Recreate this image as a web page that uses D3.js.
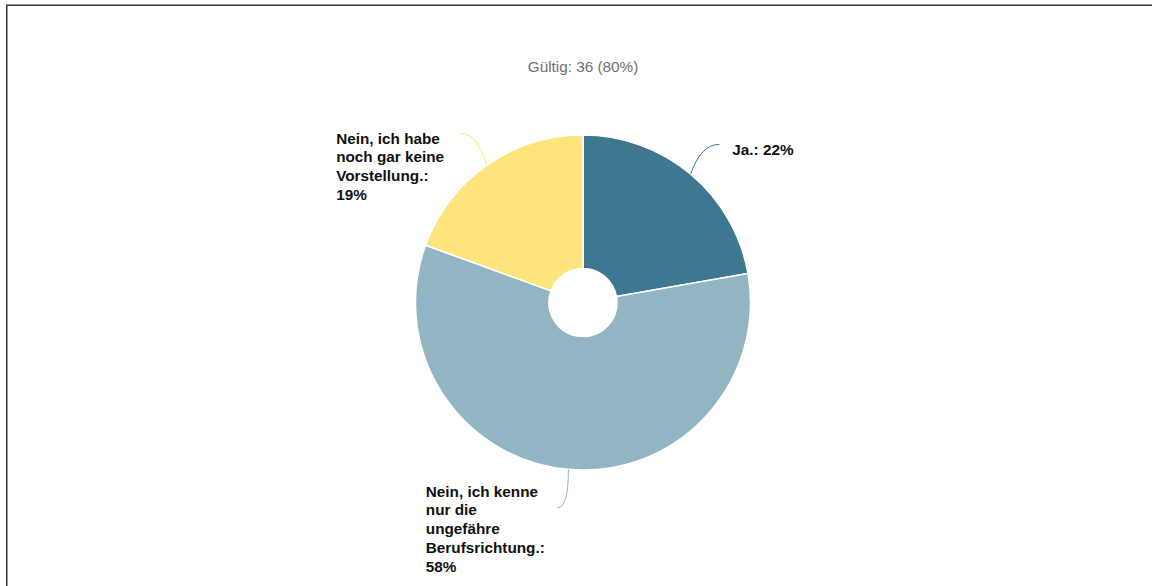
<!DOCTYPE html>
<html>
<head>
<meta charset="utf-8">
<script src="https://cdn.jsdelivr.net/npm/d3@7"></script>
<style>
  html, body { margin: 0; padding: 0; background: #fff; }
  svg { display: block; }
</style>
</head>
<body>
<svg id="chart" width="1152" height="586"></svg>
<script>
// ---- data ----
const titleText = "Gültig: 36 (80%)";
const categories = [
  "Ja.",
  "Nein, ich kenne nur die ungefähre Berufsrichtung.",
  "Nein, ich habe noch gar keine Vorstellung."
];
const counts = [8, 21, 7];
const percentLabels = ["22%", "58%", "19%"];
const colors = ["#3d7790", "#92b5c4", "#fee47b"];

// ---- layout ----
const W = 1152, H = 586;
const cx = 583, cy = 302.5;
const outerR = 167.5, innerR = 34;
const labelR = 209;
const fontSize = 15.3, lineH = 18.7, wrapW = 118;

const svg = d3.select("#chart");

// frame
svg.append("rect")
  .attr("x", 6.75).attr("y", 5.25)
  .attr("width", W + 20).attr("height", H + 20)
  .attr("fill", "none").attr("stroke", "#333").attr("stroke-width", 1.5);

// title
svg.append("text")
  .attr("x", cx).attr("y", 71.5)
  .attr("text-anchor", "middle")
  .attr("font-family", "'Liberation Sans', Arial, sans-serif")
  .attr("font-size", fontSize)
  .attr("fill", "#707070")
  .text(titleText);

const data = categories.map((c, i) => ({ name: c, value: counts[i], pct: percentLabels[i], color: colors[i] }));

const pie = d3.pie().sort(null).value(d => d.value);
const arcs = pie(data);
const arc = d3.arc().innerRadius(innerR).outerRadius(outerR);

const g = svg.append("g").attr("transform", `translate(${cx},${cy})`);

g.selectAll("path.slice")
  .data(arcs)
  .join("path")
  .attr("class", "slice")
  .attr("d", arc)
  .attr("fill", d => d.data.color)
  .attr("stroke", "#fff")
  .attr("stroke-width", 1.5)
  .attr("stroke-linejoin", "round");

function polar(r, a) { return [r * Math.sin(a), -r * Math.cos(a)]; }

// labels
const labelG = svg.append("g");
arcs.forEach(d => {
  const mid = (d.startAngle + d.endAngle) / 2;
  const s = polar(outerR, mid);
  const e = polar(labelR, mid);
  const sx = cx + s[0], sy = cy + s[1];
  const bottom = Math.cos(mid) < -0.5;
  const right = Math.sin(mid) > 0;
  const ex = cx + e[0] + (bottom ? -7 : (right ? 2 : -3)), ey = cy + e[1] + (bottom ? -3 : 2);
  const ctrlX = bottom ? sx : sx + (ex - sx) * 0.35;
  labelG.append("path")
    .attr("d", `M${sx},${sy}Q${ctrlX},${ey} ${ex},${ey}`)
    .attr("fill", "none")
    .attr("stroke", d.data.color)
    .attr("stroke-width", 1);

  // wrap text
  const full = d.data.name + ": " + d.data.pct;
  const words = full.split(" ");
  const t = labelG.append("text")
    .attr("font-family", "'Liberation Sans', Arial, sans-serif")
    .attr("font-size", fontSize)
    .attr("font-weight", "bold")
    .attr("fill", "#111");
  const lines = [];
  let cur = "";
  const probe = t.append("tspan");
  words.forEach(w => {
    const test = cur ? cur + " " + w : w;
    probe.text(test);
    if (cur && probe.node().getComputedTextLength() > wrapW) {
      lines.push(cur); cur = w;
    } else cur = test;
  });
  lines.push(cur);
  probe.remove();
  const tspans = lines.map(l => t.append("tspan").text(l));
  const maxW = d3.max(tspans, ts => ts.node().getComputedTextLength());
  const x0 = right ? ex + 13 : ex - (bottom ? 13 : 16) - maxW;
  const y0 = bottom ? ey - 11 : (right ? ey + 10.5 : ey + 10.5);
  tspans.forEach((ts, i) => ts.attr("x", x0).attr("y", y0 + i * lineH));
});
</script>
</body>
</html>
